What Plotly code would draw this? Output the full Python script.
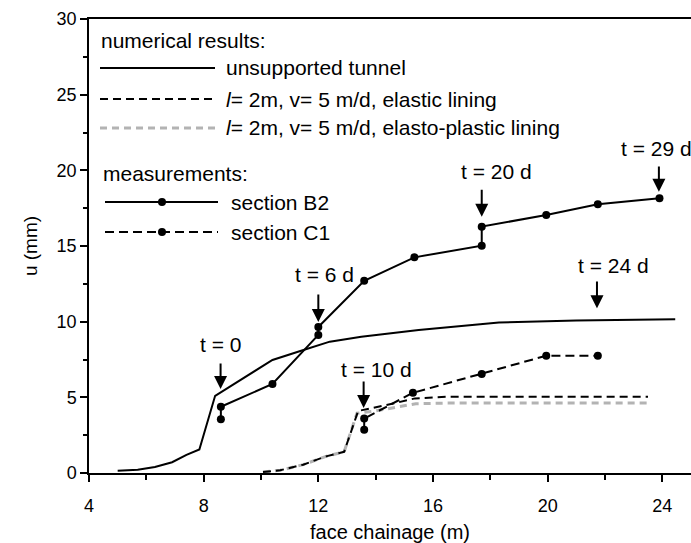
import plotly.graph_objects as go

# ---------------- data ----------------
tunnel_x = [5.0, 5.7, 6.3, 6.9, 7.4, 7.85, 8.4, 10.4, 11.4, 12.4, 13.5, 15.5, 18.3, 21.0, 24.45]
tunnel_u = [0.15, 0.22, 0.4, 0.71, 1.2, 1.55, 5.1, 7.47, 8.08, 8.68, 9.0, 9.45, 9.94, 10.08, 10.16]

elastic_x = [10.07, 10.67, 11.47, 12.27, 12.9, 13.39, 14.38, 15.37, 16.5, 23.5]
elastic_u = [0.07, 0.18, 0.55, 1.1, 1.4, 4.1, 4.49, 4.93, 5.04, 5.04]

plastic_x = [10.07, 10.67, 11.47, 12.27, 12.9, 13.35, 14.0, 14.85, 15.4, 16.5, 23.5]
plastic_u = [0.07, 0.18, 0.55, 1.1, 1.4, 3.95, 4.1, 4.38, 4.58, 4.62, 4.62]

b2_x = [8.6, 8.6, 10.4, 12.0, 12.0, 13.6, 15.35, 17.7, 17.7, 19.95, 21.75, 23.9]
b2_u = [3.55, 4.38, 5.88, 9.12, 9.65, 12.7, 14.25, 15.02, 16.28, 17.05, 17.76, 18.15]

c1_x = [13.6, 13.6, 15.3, 17.7, 19.95, 21.75]
c1_u = [2.85, 3.6, 5.3, 6.55, 7.75, 7.75]

# time labels: text, chainage, arrow tip u, arrow tail u, label position
event_labels = ["t = 0", "t = 6 d", "t = 10 d", "t = 20 d", "t = 24 d", "t = 29 d"]
event_x      = [8.59, 12.0, 13.58, 17.7, 21.72, 23.88]
event_tip_u  = [5.55, 9.98, 4.3, 16.94, 10.89, 18.59]
event_tail_u = [7.34, 11.9, 6.15, 18.82, 12.76, 20.36]
event_text_x = [8.57, 12.23, 14.03, 18.22, 22.31, 23.78]
event_text_u = [8.46, 13.09, 6.87, 19.91, 13.68, 21.46]

legend_num_labels = ["unsupported tunnel",
                     "<i>l</i>= 2m, v= 5 m/d, elastic lining",
                     "<i>l</i>= 2m, v= 5 m/d, elasto-plastic lining"]
legend_meas_labels = ["section B2", "section C1"]

# ---------------- layout geometry ----------------
W, H = 691, 543
ML, MR, MT, MB = 89, 0, 19, 70
PW, PH = W - ML - MR, H - MT - MB


def pxx(xp):
    return (xp - ML) / PW


def pxy(yp):
    return (H - MB - yp) / PH


FONT = "Liberation Sans, Arial, sans-serif"
GREY = "#b3b3b3"
TXT = 21

fig = go.Figure()

fig.add_trace(go.Scatter(x=tunnel_x, y=tunnel_u, mode="lines",
                         line=dict(color="black", width=2), showlegend=False))
fig.add_trace(go.Scatter(x=plastic_x, y=plastic_u, mode="lines",
                         line=dict(color=GREY, width=3, dash="7px,5px"), showlegend=False))
fig.add_trace(go.Scatter(x=elastic_x, y=elastic_u, mode="lines",
                         line=dict(color="black", width=2, dash="8px,5px"), showlegend=False))
fig.add_trace(go.Scatter(x=b2_x, y=b2_u, mode="lines+markers",
                         line=dict(color="black", width=2),
                         marker=dict(color="black", size=8), showlegend=False))
fig.add_trace(go.Scatter(x=c1_x, y=c1_u, mode="lines+markers",
                         line=dict(color="black", width=2, dash="9px,5px"),
                         marker=dict(color="black", size=8), showlegend=False))

annotations = []
for lab, x, tip, tail, tx, tu in zip(event_labels, event_x, event_tip_u, event_tail_u,
                                      event_text_x, event_text_u):
    annotations.append(dict(x=x, y=tip, ax=x, ay=tail, xref="x", yref="y",
                            axref="x", ayref="y", text="", showarrow=True,
                            arrowhead=2, arrowsize=1.3, arrowwidth=2,
                            arrowcolor="black", standoff=0, startstandoff=0))
    annotations.append(dict(x=tx, y=tu, xref="x", yref="y", text=lab, showarrow=False,
                            xanchor="center", yanchor="middle",
                            font=dict(family=FONT, size=TXT, color="black")))

# manual legend
shapes = []
txt_font = dict(family=FONT, size=TXT, color="black")
annotations.append(dict(x=pxx(99), y=pxy(40), xref="paper", yref="paper",
                        text="numerical results:", showarrow=False,
                        xanchor="left", yanchor="middle", font=txt_font))
num_rows = [68, 99, 128]
num_styles = [dict(color="black", width=2, dash="solid"),
              dict(color="black", width=2, dash="8px,5px"),
              dict(color=GREY, width=3, dash="7px,5px")]
for lab, yr, st in zip(legend_num_labels, num_rows, num_styles):
    shapes.append(dict(type="line", xref="paper", yref="paper",
                       x0=pxx(100), x1=pxx(215), y0=pxy(yr), y1=pxy(yr), line=st))
    annotations.append(dict(x=pxx(224), y=pxy(yr), xref="paper", yref="paper",
                            text=lab, showarrow=False, xanchor="left",
                            yanchor="middle", font=txt_font))

annotations.append(dict(x=pxx(101), y=pxy(173), xref="paper", yref="paper",
                        text="measurements:", showarrow=False,
                        xanchor="left", yanchor="middle", font=txt_font))
meas_rows = [202, 232]
meas_styles = [dict(color="black", width=2, dash="solid"),
               dict(color="black", width=2, dash="9px,5px")]
for lab, yr, st in zip(legend_meas_labels, meas_rows, meas_styles):
    shapes.append(dict(type="line", xref="paper", yref="paper",
                       x0=pxx(105), x1=pxx(218), y0=pxy(yr), y1=pxy(yr), line=st))
    r = 4
    shapes.append(dict(type="circle", xref="paper", yref="paper",
                       x0=pxx(162 - r), x1=pxx(162 + r), y0=pxy(yr + r), y1=pxy(yr - r),
                       fillcolor="black", line=dict(color="black", width=0)))
    annotations.append(dict(x=pxx(229), y=pxy(yr), xref="paper", yref="paper",
                            text=lab, showarrow=False, xanchor="left",
                            yanchor="middle", font=txt_font))

axis_common = dict(showgrid=False, zeroline=False, showline=True, linecolor="black",
                   linewidth=1.5, ticks="outside", tickcolor="black", tickwidth=1.5,
                   ticklen=7, tickfont=dict(family=FONT, size=18, color="black"))

fig.update_layout(
    width=W, height=H,
    margin=dict(l=ML, r=MR, t=MT, b=MB, autoexpand=False),
    paper_bgcolor="white", plot_bgcolor="white",
    showlegend=False,
    annotations=annotations, shapes=shapes,
    xaxis=dict(range=[4, 25], tick0=4, dtick=4, mirror=True, ticklabelstandoff=9,
               minor=dict(dtick=2, tick0=4, ticks="outside", ticklen=5, tickwidth=1.5,
                          tickcolor="black"),
               title=dict(text="face chainage (m)", standoff=10,
                          font=dict(family=FONT, size=20, color="black")),
               **axis_common),
    yaxis=dict(range=[0, 30], tick0=0, dtick=5,
               minor=dict(dtick=2.5, ticks="outside", ticklen=4, tickwidth=1.5,
                          tickcolor="black"),
               title=dict(text="u (mm)", standoff=14,
                          font=dict(family=FONT, size=19, color="black")),
               **axis_common),
)

fig.write_html("out.html")
